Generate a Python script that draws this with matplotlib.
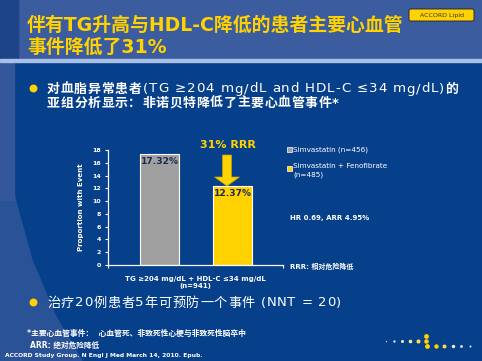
import numpy as np
import matplotlib
matplotlib.use("Agg")
import matplotlib.pyplot as plt
from matplotlib.patches import Rectangle, Polygon, FancyBboxPatch, FancyArrow

plt.rcParams['font.family'] = ['DejaVu Sans', 'Noto Sans CJK SC']

# ── data ──────────────────────────────────────────────────────────────
groups = ["Simvastatin (n=456)", "Simvastatin + Fenofibrate\n(n=485)"]
values = [17.32, 12.37]
bar_colors = ["#a0a0a0", "#ffd200"]
yticks = list(range(0, 19, 2))
xlabel = "TG \u2265204 mg/dL + HDL-C \u226434 mg/dL\n(n=941)"

BODY = "#07408a"
HEAD = "#3b5c9f"
YEL = "#ffd200"

fig = plt.figure(figsize=(4.82, 3.61), dpi=100)
bg = fig.add_axes([0, 0, 1, 1])
bg.set_xlim(0, 482); bg.set_ylim(361, 0); bg.axis("off")
renderer = fig.canvas.get_renderer()


def text_w(s, props):
    t = bg.text(0, 0, s, **props)
    w = t.get_window_extent(renderer).width
    t.remove()
    return w


def seq_text(x, y, pieces, track=0.0):
    # draw text pieces one after another on a shared baseline, with extra letter spacing
    for s, props in pieces:
        base = text_w("xx", props)
        for c in s:
            bg.text(x, y, c, va="baseline", ha="left", zorder=3, **props)
            x += text_w("x" + c + "x", props) - base + track
    return x


# background
bg.add_patch(Rectangle((0, 0), 482, 361, color=BODY, zorder=0))
bg.add_patch(Polygon([(0, 195), (14, 195), (32, 260), (55, 315), (82, 361), (0, 361)],
                     color="#2a5296", zorder=0.5))
bg.add_patch(Rectangle((0, 60), 14, 140, color="#34579b", zorder=0.5))
bg.add_patch(Rectangle((0, 0), 482, 59, color=HEAD, zorder=1))
bg.add_patch(Rectangle((0, 0), 18, 59, color="#1d4488", zorder=1))
bg.add_patch(Rectangle((0, 59), 482, 2.5, color="#a9c0e6", zorder=1))

# title
bg.text(27, 25, "伴有TG升高与HDL-C降低的患者主要心血管", color=YEL, fontsize=13.6,
        fontweight="bold", va="center", ha="left", zorder=3)
bg.text(27, 47, "事件降低了31%", color=YEL, fontsize=13.6,
        fontweight="bold", va="center", ha="left", zorder=3)

# ACCORD Lipid tag
bg.add_patch(FancyBboxPatch((409, 9), 65, 12, boxstyle="round,pad=0,rounding_size=2",
                            fc=YEL, ec="#202020", lw=0.6, zorder=3))
bg.text(441.5, 15, "ACCORD Lipid", fontsize=4.5, color="#333333",
        ha="center", va="center", zorder=4)

# bullets
bg.scatter([33, 33], [88, 302], s=22, color=YEL, zorder=3)
cjk_b = dict(fontsize=9.3, fontweight="bold", color="white")
lat_r = dict(fontsize=9.6, color="white")
x = seq_text(47, 92.5, [("对血脂异常患者", cjk_b)], track=0.7)
x = seq_text(x + 1, 92.5, [("(TG \u2265204 mg/dL and HDL-C \u226434 mg/dL)", lat_r)], track=0.9)
seq_text(x, 92.5, [("的", cjk_b)])
seq_text(47, 106.5, [("亚组分析显示：非诺贝特降低了主要心血管事件*", cjk_b)], track=0.7)
seq_text(47, 306.5, [("治疗20例患者5年可预防一个事件 (NNT = 20)",
                      dict(fontsize=9.5, color="white"))], track=0.7)

# footnotes
bg.text(27, 333, "*主要心血管事件：  心血管死、非致死性心梗与非致死性脑卒中",
        color="white", fontsize=5.6, fontweight="bold", va="center", zorder=3)
bg.text(30, 345, "ARR: 绝对危险降低", color="white", fontsize=5.5,
        fontweight="bold", va="center", zorder=3)
bg.text(5, 355, "ACCORD Study Group. N Engl J Med March 14, 2010. Epub.",
        color="white", fontsize=4.3, fontweight="bold", va="center", zorder=3)

# decorative dots
dot_c1 = ["#e8eef8", "#e8eef8", "#f2f0c0", "#f5e88a", "#f8dc50", YEL]
dot_c2 = [YEL, YEL, "#f8dc50", "#f2f0c0", "#e8eef8", "#e8eef8"]
for i in range(6):
    bg.scatter(386 + i * 8, 341, s=0.8 + i * 2.0, color=dot_c1[i], zorder=3, lw=0)
    bg.scatter(427 + i * 8.5, 346, s=12 - i * 2.0, color=dot_c2[i], zorder=3, lw=0)
bg.scatter([426], [336], s=12, color=YEL, zorder=3, lw=0)

# legend + notes
bg.add_patch(Rectangle((287, 147), 5, 5, fc=bar_colors[0], ec="white", lw=0.5, zorder=3))
bg.text(293, 149.5, groups[0], color="white", fontsize=5.2, va="center", zorder=3)
bg.add_patch(Rectangle((287, 166), 5, 5, fc=bar_colors[1], ec="white", lw=0.5, zorder=3))
bg.text(293, 163.5, groups[1], color="white", fontsize=5.2, va="top", zorder=3,
        linespacing=1.3)
bg.text(290, 218, "HR 0.69, ARR 4.95%", color="white", fontsize=5,
        fontweight="bold", va="center", zorder=3)
bg.text(290, 266, "RRR: 相对危险降低", color="white", fontsize=5,
        fontweight="bold", va="center", zorder=3)

# ── chart ─────────────────────────────────────────────────────────────
ax = fig.add_axes([108 / 482, (361 - 265) / 361, 175 / 482, 115 / 361])
ax.patch.set_alpha(0)
xpos = np.arange(len(values))
bars = ax.bar(xpos, values, width=0.534, color=bar_colors, edgecolor="white", lw=0.8)
ax.set_xlim(-0.705, 1.692)
ax.set_ylim(0, 18)
ax.set_yticks(yticks)
ax.set_yticklabels([str(t) for t in yticks], fontsize=4.5, color="white", fontweight="bold")
ax.set_xticks([-0.705, 1.692]); ax.set_xticklabels(["", ""])
ax.tick_params(axis="y", colors="white", length=2, width=0.8, pad=3)
ax.tick_params(axis="x", colors="white", length=2.5, width=0.8)
for s in ["top", "right"]:
    ax.spines[s].set_visible(False)
for s in ["left", "bottom"]:
    ax.spines[s].set_color("white"); ax.spines[s].set_linewidth(0.9)
ax.set_ylabel("Proportion with Event", color="white", fontsize=5, fontweight="bold", labelpad=6)
ax.set_xlabel(xlabel, color="white", fontsize=5, fontweight="bold", labelpad=2, linespacing=1.2)
for b, v in zip(bars, values):
    ax.text(b.get_x() + b.get_width() / 2, v - 0.4, f"{v:.2f}%", ha="center", va="top",
            fontsize=6.6, fontweight="bold", color="#1a2a50")

# RRR arrow
bg.text(228, 145, "31% RRR", color=YEL, fontsize=8, fontweight="bold",
        ha="center", va="center", zorder=3)
bg.add_patch(FancyArrow(227, 155, 0, 31, width=9, head_width=25, head_length=9,
                        length_includes_head=True, fc=YEL, ec="#c8a000", lw=0.5, zorder=3))

fig.savefig("out.png", dpi=100)
